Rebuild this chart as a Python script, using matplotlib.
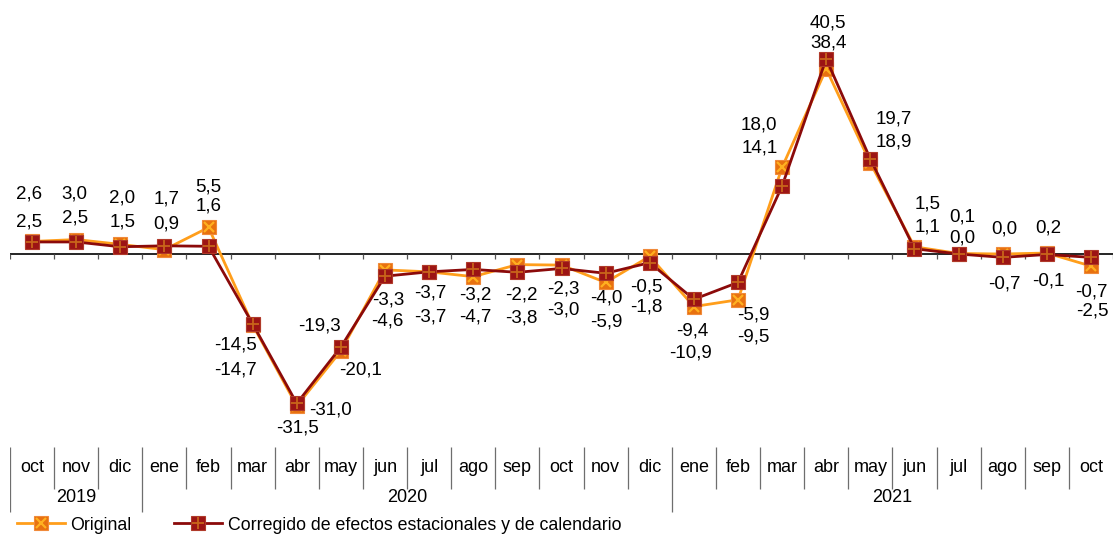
import matplotlib
matplotlib.use("Agg")
import matplotlib.pyplot as plt
from matplotlib.lines import Line2D
from matplotlib.legend_handler import HandlerTuple

plt.rcParams['font.family'] = ['Liberation Sans', 'DejaVu Sans']

# ---------------- data ----------------
months = ["oct", "nov", "dic", "ene", "feb", "mar", "abr", "may", "jun", "jul", "ago", "sep",
          "oct", "nov", "dic", "ene", "feb", "mar", "abr", "may", "jun", "jul", "ago", "sep", "oct"]
years = ["2019", "2020", "2021"]
year_counts = [3, 12, 10]
original = [2.6, 3.0, 2.0, 0.9, 5.5, -14.7, -31.5, -20.1, -3.3, -3.7, -4.7, -2.2, -2.3,
            -5.9, -0.5, -10.9, -9.5, 18.0, 38.4, 18.9, 1.5, 0.1, 0.0, 0.2, -2.5]
corregido = [2.5, 2.5, 1.5, 1.7, 1.6, -14.5, -31.0, -19.3, -4.6, -3.7, -3.2, -3.8, -3.0,
             -4.0, -1.8, -9.4, -5.9, 14.1, 40.5, 19.7, 1.1, 0.0, -0.7, -0.1, -0.7]
series_names = ["Original", "Corregido de efectos estacionales y de calendario"]

# label placement (pixels): (dx_high, dy_high, dx_low, dy_low), relative to each point
label_offsets = [
    (-3, 47, -3, 20), (-2, 46, -1, 24), (2, 46, 2, 25), (2, 47, 2, 26), (0, 40, 0, 40),
    (-17, -21, -17, -45), (34, -7, 1, -22), (-21, 21, 20, -19), (3, -30, 2, -45),
    (1, -21, 1, -45), (2, -26, 2, -40), (4, -30, 4, -46), (2, -24, 2, -42), (1, -25, 1, -40),
    (-3, -31, -3, -44), (-2, -32, -3, -46), (15, -33, 15, -37), (-23, 42, -22, 38),
    (2, 36, 2, 26), (23, 40, 23, 21), (13, 43, 13, 22), (4, 37, 4, 16), (2, 25, 2, -27),
    (1, 25, 1, -27), (0, -35, 1, -45),
]

W, H = 1113, 534
fig = plt.figure(figsize=(W / 100, H / 100), dpi=100)

# ---------------- main axes ----------------
px_per_unit = 4.82
zero_px, top_px, bot_px = 254, 10, 440
ax = fig.add_axes([10 / W, 1 - bot_px / H, (W - 10) / W, (bot_px - top_px) / H])
ax.set_xlim(-0.5, len(months) - 0.5)
ax.set_ylim(-(bot_px - zero_px) / px_per_unit, (zero_px - top_px) / px_per_unit)
ax.axis('off')

x = list(range(len(months)))
c_orig_line = '#FF9E1B'
c_orig_face = '#E8710F'
c_orig_x = '#FFB020'
c_corr_line = '#8B0A0A'
c_corr_face = '#9C1414'
c_corr_plus = '#C8641A'

ax.axhline(0, color='black', lw=1.2, zorder=1)
ax.vlines([i - 0.5 for i in range(len(months) + 1)], -5 / px_per_unit, 0,
          color='#555555', lw=0.9, zorder=1)

ms = 10.5
fs = 13.5
l1, = ax.plot(x, original, color=c_orig_line, lw=2, marker='s', ms=ms,
              mfc=c_orig_face, mec='#F08A3A', mew=0.8, zorder=3)
l1x, = ax.plot(x, original, ls='none', marker='x', ms=ms * 0.75, mec=c_orig_x,
               mew=1.6, zorder=3.1)
l2, = ax.plot(x, corregido, color=c_corr_line, lw=2, marker='s', ms=ms,
              mfc=c_corr_face, mec='#B03A2A', mew=0.8, zorder=4)
l2p, = ax.plot(x, corregido, ls='none', marker='+', ms=ms * 0.85, mec=c_corr_plus,
               mew=1.3, zorder=4.1)

def fmt(v):
    return f"{v:.1f}".replace('.', ',')

for i, (o, c) in enumerate(zip(original, corregido)):
    hi, lo = (o, c) if o >= c else (c, o)
    dx1, dy1, dx2, dy2 = label_offsets[i]
    ax.annotate(fmt(hi), xy=(i, hi), xytext=(dx1, dy1), textcoords='offset pixels',
                ha='center', va='center', fontsize=fs, color='black', zorder=5)
    ax.annotate(fmt(lo), xy=(i, lo), xytext=(dx2, dy2), textcoords='offset pixels',
                ha='center', va='center', fontsize=fs, color='black', zorder=5)

# ---------------- category table ----------------
tax = fig.add_axes([10 / W, 0, (W - 10) / W, 94 / H])
tax.set_xlim(-0.5, len(months) - 0.5)
tax.set_ylim(534, 440)
tax.axis('off')

year_bounds = [-0.5]
acc = -0.5
for n in year_counts:
    acc += n
    year_bounds.append(acc)
month_bounds = [i - 0.5 for i in range(1, len(months)) if (i - 0.5) not in year_bounds]
tax.vlines(month_bounds, 447, 489, color='#6e6e6e', lw=0.9)
tax.vlines([b for b in year_bounds if b < len(months) - 0.5], 447, 512, color='#6e6e6e', lw=0.9)

for i, m in enumerate(months):
    tax.text(i, 467, m, ha='center', va='center', fontsize=13, color='black')
start = 0
for yname, n in zip(years, year_counts):
    tax.text(start + (n - 1) / 2, 498, yname, ha='center', va='center', fontsize=13, color='black')
    start += n

# ---------------- legend ----------------
h1 = (Line2D([], [], color=c_orig_line, lw=2, marker='s', ms=ms, mfc=c_orig_face, mec='#F08A3A', mew=0.8),
      Line2D([], [], ls='none', marker='x', ms=ms * 0.75, mec=c_orig_x, mew=1.6))
h2 = (Line2D([], [], color=c_corr_line, lw=2, marker='s', ms=ms, mfc=c_corr_face, mec='#B03A2A', mew=0.8),
      Line2D([], [], ls='none', marker='+', ms=ms * 0.85, mec=c_corr_plus, mew=1.3))
fig.legend([h1, h2], series_names, handler_map={tuple: HandlerTuple(ndivide=1, pad=0)},
           loc='center left', bbox_to_anchor=(17 / W, 1 - 525 / H), ncol=2, frameon=False,
           fontsize=12.8, handlelength=2.7, handletextpad=0.3, columnspacing=2.4,
           borderpad=0.0, borderaxespad=0.0)

fig.savefig("out.png", dpi=100)
